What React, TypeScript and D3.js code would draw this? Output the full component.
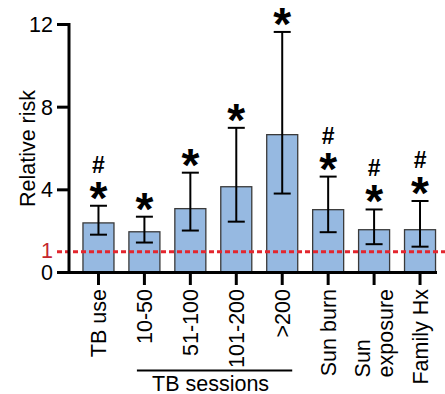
import React, { useEffect, useRef } from "react";
import * as d3 from "d3";

const categories = ["TB use", "10-50", "51-100", "101-200", ">200", "Sun burn", "Sun exposure", "Family Hx"];
const labelLines = [["TB use"], ["10-50"], ["51-100"], ["101-200"], [">200"], ["Sun burn"], ["Sun", "exposure"], ["Family Hx"]];
const values = [2.4, 1.97, 3.09, 4.15, 6.67, 3.04, 2.07, 2.07];
const lower = [1.83, 1.45, 2.03, 2.46, 3.82, 1.95, 1.37, 1.25];
const upper = [3.23, 2.7, 4.83, 7.0, 11.64, 4.64, 3.05, 3.46];
const star = [true, true, true, true, true, true, true, true];
const hash = [true, false, false, false, false, true, true, true];
const yTicks = [0, 4, 8, 12];
const refValue = 1;
const groupLabel = "TB sessions";
const groupMembers = ["10-50", ">200"];

const W = 445;
const H = 394;
const FONT = "Arial, 'Liberation Sans', Helvetica, sans-serif";
const FS = 21.5;

export default function App() {
  const ref = useRef<SVGSVGElement>(null);

  useEffect(() => {
    const svg = d3.select(ref.current);
    svg.selectAll("*").remove();

    const y = d3.scaleLinear().domain([0, 12]).range([272.5, 24.5]);
    const x = d3
      .scaleBand<string>()
      .domain(categories)
      .range([75.5, 443])
      .paddingInner(0.325)
      .paddingOuter(0.1625);
    const cx = (c: string) => (x(c) as number) + x.bandwidth() / 2;
    const axisX = 69;
    const axisRight = 437;

    // bars
    svg
      .append("g")
      .selectAll("rect")
      .data(categories)
      .join("rect")
      .attr("x", (c) => x(c) as number)
      .attr("width", x.bandwidth())
      .attr("y", (c, i) => y(values[i]))
      .attr("height", (c, i) => y(0) - y(values[i]))
      .attr("fill", "#96b9e1")
      .attr("stroke", "#3a3a3a")
      .attr("stroke-width", 1.3);

    // reference line
    svg
      .append("line")
      .attr("x1", 57)
      .attr("x2", W)
      .attr("y1", y(refValue))
      .attr("y2", y(refValue))
      .attr("stroke", "#e3262e")
      .attr("stroke-width", 3)
      .attr("stroke-dasharray", "5,3");

    // error bars
    const eg = svg.append("g").attr("stroke", "#000").attr("stroke-width", 2).attr("fill", "none");
    categories.forEach((c, i) => {
      const xc = cx(c);
      eg.append("line").attr("x1", xc).attr("x2", xc).attr("y1", y(lower[i])).attr("y2", y(upper[i]));
      eg.append("line").attr("x1", xc - 8.5).attr("x2", xc + 8.5).attr("y1", y(upper[i])).attr("y2", y(upper[i]));
      eg.append("line").attr("x1", xc - 8.5).attr("x2", xc + 8.5).attr("y1", y(lower[i])).attr("y2", y(lower[i]));
    });

    // significance marks
    categories.forEach((c, i) => {
      const xc = cx(c);
      const top = y(upper[i]);
      if (star[i]) {
        svg
          .append("text")
          .attr("x", xc)
          .attr("y", top + 8)
          .attr("text-anchor", "middle")
          .attr("font-family", FONT)
          .attr("font-weight", "bold")
          .attr("font-size", 46)
          .text("*");
      }
      if (hash[i]) {
        svg
          .append("text")
          .attr("x", xc)
          .attr("y", top - 33)
          .attr("text-anchor", "middle")
          .attr("font-family", FONT)
          .attr("font-weight", "bold")
          .attr("font-size", 23)
          .text("#");
      }
    });

    // y axis
    const ax = svg.append("g").attr("stroke", "#000").attr("stroke-width", 3);
    ax.append("line").attr("x1", axisX).attr("x2", axisX).attr("y1", y(12) - 1.5).attr("y2", y(0) + 1.5);
    yTicks.forEach((t) => {
      ax.append("line").attr("x1", 57).attr("x2", axisX).attr("y1", y(t)).attr("y2", y(t));
    });
    ax.append("line").attr("x1", axisX).attr("x2", axisRight).attr("y1", y(0)).attr("y2", y(0));
    categories.forEach((c) => {
      ax.append("line").attr("x1", cx(c)).attr("x2", cx(c)).attr("y1", y(0)).attr("y2", 285);
    });

    svg
      .append("g")
      .selectAll("text")
      .data(yTicks)
      .join("text")
      .attr("x", 53)
      .attr("y", (t) => y(t))
      .attr("dy", "0.35em")
      .attr("text-anchor", "end")
      .attr("font-family", FONT)
      .attr("font-size", FS)
      .text((t) => String(t));

    svg
      .append("text")
      .attr("x", 53)
      .attr("y", y(refValue) - 1)
      .attr("dy", "0.35em")
      .attr("text-anchor", "end")
      .attr("font-family", FONT)
      .attr("font-size", FS)
      .attr("fill", "#c4262e")
      .text(String(refValue));

    svg
      .append("text")
      .attr("transform", `translate(35,${(y(12) + y(0)) / 2 + 0}) rotate(-90)`)
      .attr("text-anchor", "middle")
      .attr("font-family", FONT)
      .attr("font-size", FS)
      .text("Relative risk");

    // x labels
    const labelTop = 289;
    categories.forEach((c, i) => {
      const lines = labelLines[i];
      const n = lines.length;
      const g = svg.append("g").attr("transform", `translate(${cx(c)},${labelTop}) rotate(-90)`);
      if (n === 1) {
        g.append("text")
          .attr("x", 0)
          .attr("y", 0)
          .attr("dy", "0.35em")
          .attr("text-anchor", "end")
          .attr("font-family", FONT)
          .attr("font-size", FS)
          .text(lines[0]);
      } else {
        const texts = lines.map((l, k) =>
          g
            .append("text")
            .attr("y", (k - (n - 1) / 2) * 23)
            .attr("dy", "0.35em")
            .attr("text-anchor", "start")
            .attr("font-family", FONT)
            .attr("font-size", FS)
            .text(l)
        );
        const maxLen = d3.max(texts, (t) => (t.node() as SVGTextElement).getComputedTextLength()) || 0;
        texts.forEach((t) => t.attr("x", -maxLen));
      }
    });

    // group bracket
    const gx1 = cx(groupMembers[0]) - 7.5;
    const gx2 = cx(groupMembers[1]) + 10;
    svg
      .append("line")
      .attr("x1", gx1)
      .attr("x2", gx2)
      .attr("y1", 370.5)
      .attr("y2", 370.5)
      .attr("stroke", "#000")
      .attr("stroke-width", 2);
    svg
      .append("text")
      .attr("x", (gx1 + gx2) / 2 - 4)
      .attr("y", 391)
      .attr("text-anchor", "middle")
      .attr("font-family", FONT)
      .attr("font-size", FS)
      .text(groupLabel);
  }, []);

  return <svg ref={ref} width={W} height={H} style={{ display: "block", position: "absolute", left: 0, top: 0 }} />;
}
